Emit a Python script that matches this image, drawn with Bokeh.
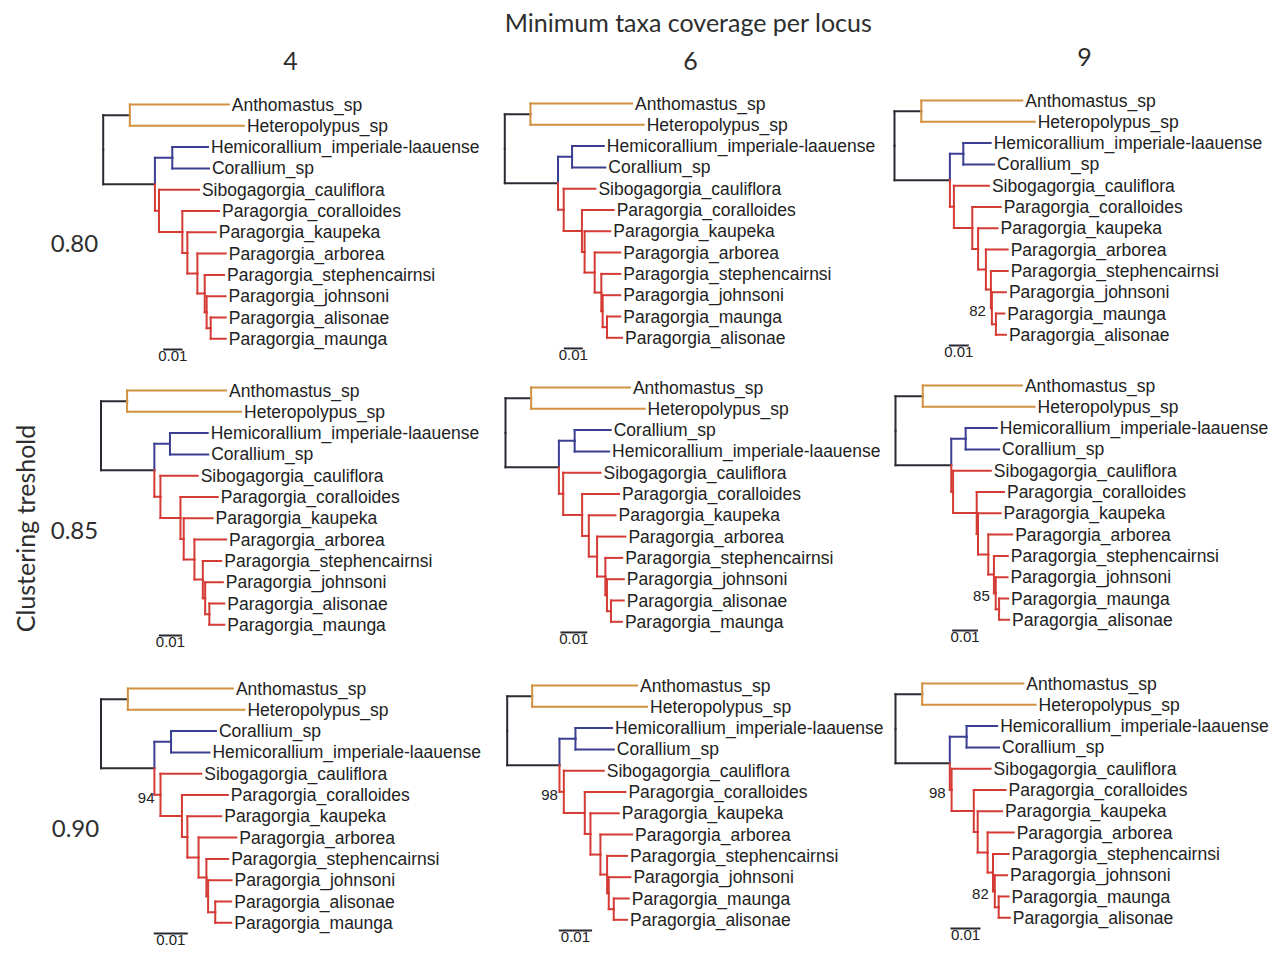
import math
from bokeh.plotting import figure
from bokeh.models import Range1d, ColumnDataSource
from bokeh.layouts import column, row
from bokeh.embed import file_html
from bokeh.resources import INLINE
from bokeh.core.properties import value

# ---------------- data ----------------
FIGURE_TITLE = "Minimum taxa coverage per locus"
COVERAGE = ["4", "6", "9"]
THRESHOLDS = ["0.80", "0.85", "0.90"]
ROW_AXIS_TITLE = "Clustering treshold"
SCALE_LABEL = "0.01"
SCALE_LEN = 0.01

OUTGROUP = ["Anthomastus_sp", "Heteropolypus_sp"]
HEMI = "Hemicorallium_imperiale-laauense"
CORA = "Corallium_sp"
SIBO = "Sibogagorgia_cauliflora"
PARAGORGIA = ["Paragorgia_coralloides", "Paragorgia_kaupeka", "Paragorgia_arborea",
              "Paragorgia_stephencairnsi", "Paragorgia_johnsoni"]
ALI = "Paragorgia_alisonae"
MAU = "Paragorgia_maunga"

# branch lengths (subst./site), edge order:
# root-O, O-Anth, O-Hetero, root-C, C-B, B-tip1, B-tip2, C-R, R-Sibo, R-P1,
# P1-coralloides, P1-P2, P2-kaupeka, P2-P3, P3-arborea, P3-P4, P4-stephencairnsi,
# P4-P5, P5-johnsoni, P5-P6, P6-tip1, P6-tip2
BL_080_4 = [0.0138, 0.0513, 0.0591, 0.0268, 0.0090, 0.0185, 0.0190, 0.0021, 0.0207, 0.0121, 0.0190,
            0.0026, 0.0147, 0.0052, 0.0147, 0.0038, 0.0100, 0.0010, 0.0098, 0.0021, 0.0078, 0.0078]
BL_080_6 = [0.0135, 0.0535, 0.0596, 0.0280, 0.0074, 0.0167, 0.0175, 0.0030, 0.0167, 0.0096, 0.0167,
            0.0014, 0.0135, 0.0053, 0.0135, 0.0035, 0.0100, 0.0007, 0.0093, 0.0023, 0.0070, 0.0079]
BL_080_9 = [0.0134, 0.0505, 0.0567, 0.0277, 0.0067, 0.0137, 0.0154, 0.0020, 0.0175, 0.0092, 0.0142,
            0.0029, 0.0097, 0.0039, 0.0109, 0.0025, 0.0084, 0.0005, 0.0070, 0.0020, 0.0042, 0.0050]
BL_085_4 = [0.0112, 0.0425, 0.0489, 0.0229, 0.0067, 0.0162, 0.0164, 0.0026, 0.0160, 0.0086, 0.0160,
            0.0014, 0.0124, 0.0046, 0.0136, 0.0036, 0.0079, 0.0010, 0.0076, 0.0018, 0.0064, 0.0064]
BL_085_6 = [0.0096, 0.0370, 0.0425, 0.0200, 0.0059, 0.0135, 0.0129, 0.0016, 0.0140, 0.0071, 0.0138,
            0.0025, 0.0100, 0.0031, 0.0106, 0.0031, 0.0063, 0.0006, 0.0063, 0.0015, 0.0048, 0.0041]
BL_085_9 = [0.0106, 0.0386, 0.0435, 0.0217, 0.0056, 0.0121, 0.0130, 0.0007, 0.0147, 0.0092, 0.0106,
            0.0005, 0.0088, 0.0040, 0.0093, 0.0022, 0.0054, 0.0007, 0.0046, 0.0013, 0.0035, 0.0039]
BL_090_4 = [0.0079, 0.0309, 0.0343, 0.0157, 0.0049, 0.0132, 0.0113, 0.0018, 0.0120, 0.0063, 0.0135,
            0.0016, 0.0100, 0.0033, 0.0111, 0.0023, 0.0064, 0.0005, 0.0069, 0.0021, 0.0047, 0.0047]
BL_090_6 = [0.0075, 0.0315, 0.0345, 0.0157, 0.0048, 0.0110, 0.0115, 0.0013, 0.0120, 0.0063, 0.0122,
            0.0017, 0.0085, 0.0030, 0.0095, 0.0020, 0.0060, 0.0005, 0.0065, 0.0015, 0.0045, 0.0040]
BL_090_9 = [0.0089, 0.0337, 0.0378, 0.0181, 0.0056, 0.0102, 0.0108, 0.0006, 0.0130, 0.0074, 0.0106,
            0.0013, 0.0081, 0.0033, 0.0087, 0.0018, 0.0052, 0.0006, 0.0041, 0.0013, 0.0033, 0.0037]

BRANCH_LENGTHS = [[BL_080_4, BL_080_6, BL_080_9],
                  [BL_085_4, BL_085_6, BL_085_9],
                  [BL_090_4, BL_090_6, BL_090_9]]
BLUE_ORDER = [[[HEMI, CORA], [HEMI, CORA], [HEMI, CORA]],
              [[HEMI, CORA], [CORA, HEMI], [HEMI, CORA]],
              [[CORA, HEMI], [HEMI, CORA], [HEMI, CORA]]]
LAST_ORDER = [[[ALI, MAU], [MAU, ALI], [MAU, ALI]],
              [[ALI, MAU], [ALI, MAU], [MAU, ALI]],
              [[ALI, MAU], [MAU, ALI], [MAU, ALI]]]
SUPPORT = [[{}, {}, {"P5": "82"}],
           [{}, {}, {"P5": "85"}],
           [{"R": "94"}, {"R": "98"}, {"R": "98", "P5": "82"}]]

# ---------------- layout / style (page pixels) ----------------
LABEL_W = 99
COL_X0 = [99, 490, 887]
COL_W = [391, 397, 386]
HEADER_H = 84
ROW_Y0 = [84, 372, 659]
ROW_H = [288, 287, 292]
PANEL_ROOT_PX = [[102.7, 504.3, 894], [100.5, 505, 895], [100.5, 506.7, 895]]
PANEL_TOP_PX = [[104, 103, 100], [390, 387, 385], [688, 685, 683]]
PANEL_PX_PER_001 = [[19.3, 19, 20], [23.3, 26.7, 25.7], [34, 33.3, 30]]
SCALEBAR_X_PX = [[162.7, 563.3, 948.3], [158.3, 560, 951.7], [153.3, 558.3, 950]]
LEAF_SP = 21.3

C_BLACK = "#2b2b33"
C_ORANGE = "#d2913f"
C_BLUE = "#3b3f92"
C_RED = "#d53b35"
C_TEXT = "#222222"
LABEL_FONT = "Liberation Sans"
HEAD_FONT = "Lato"
HEAD_SIZE = "25px"


def base_fig(w, h, xr, yr):
    p = figure(width=w, height=h, x_range=xr, y_range=yr, output_backend="svg",
               toolbar_location=None, x_axis_type=None, y_axis_type=None,
               min_border=0, outline_line_color=None)
    p.grid.visible = False
    p.background_fill_color = "white"
    p.border_fill_color = "white"
    return p


def build_tree(bl, blue, last):
    leaves = OUTGROUP + blue + [SIBO] + PARAGORGIA + last
    edges = [("root", "O"), ("O", leaves[0]), ("O", leaves[1]), ("root", "C"), ("C", "B"),
             ("B", leaves[2]), ("B", leaves[3]), ("C", "R"), ("R", leaves[4]), ("R", "P1"),
             ("P1", leaves[5]), ("P1", "P2"), ("P2", leaves[6]), ("P2", "P3"), ("P3", leaves[7]),
             ("P3", "P4"), ("P4", leaves[8]), ("P4", "P5"), ("P5", leaves[9]), ("P5", "P6"),
             ("P6", leaves[10]), ("P6", leaves[11])]
    xs = {"root": 0.0}
    children = {}
    for (pa, ch), L in zip(edges, bl):
        xs[ch] = xs[pa] + L
        children.setdefault(pa, []).append(ch)
    ys = {n: i for i, n in enumerate(leaves)}

    def gy(n):
        if n not in ys:
            ys[n] = sum(gy(c) for c in children[n]) / len(children[n])
        return ys[n]
    gy("root")

    def colour(pa, ch):
        if pa == "root":
            return C_BLACK
        if pa == "O":
            return C_ORANGE
        if pa == "B" or ch == "B":
            return C_BLUE
        return C_RED
    seg = dict(x0=[], y0=[], x1=[], y1=[], c=[])
    for pa, ch in edges:
        c = colour(pa, ch)
        seg["x0"].append(xs[pa]); seg["y0"].append(ys[pa])
        seg["x1"].append(xs[pa]); seg["y1"].append(ys[ch]); seg["c"].append(c)
        seg["x0"].append(xs[pa]); seg["y0"].append(ys[ch])
        seg["x1"].append(xs[ch]); seg["y1"].append(ys[ch]); seg["c"].append(c)
    leaf_src = dict(x=[xs[n] for n in leaves], y=[ys[n] for n in leaves], t=leaves)
    return seg, leaf_src, xs, ys


def panel(r, c):
    W, H = COL_W[c], ROW_H[r]
    ppu = PANEL_PX_PER_001[r][c] / SCALE_LEN
    xs0 = -(PANEL_ROOT_PX[r][c] - COL_X0[c]) / ppu
    xr = Range1d(xs0, xs0 + W / ppu)
    ye = -(PANEL_TOP_PX[r][c] - ROW_Y0[r]) / LEAF_SP
    yr = Range1d(ye + H / LEAF_SP, ye)
    p = base_fig(W, H, xr, yr)
    seg, leaf_src, xs, ys = build_tree(BRANCH_LENGTHS[r][c], BLUE_ORDER[r][c], LAST_ORDER[r][c])
    p.segment(x0="x0", y0="y0", x1="x1", y1="y1", line_color="c", line_width=2,
              line_cap="square", source=ColumnDataSource(seg))
    p.text(x="x", y="y", text="t", source=ColumnDataSource(leaf_src),
           text_font=value(LABEL_FONT), text_font_size="17.5px", text_color=C_TEXT,
           text_baseline="middle", text_align="left", x_offset=3)
    sup = SUPPORT[r][c]
    if sup:
        nodes = list(sup.keys())
        p.text(x=[xs[n] for n in nodes], y=[ys[n] for n in nodes], text=[sup[n] for n in nodes],
               text_font=value(LABEL_FONT), text_font_size="15px", text_color=C_TEXT,
               text_baseline="middle", text_align="right", x_offset=-6, y_offset=3)
    sb_x = (SCALEBAR_X_PX[r][c] - PANEL_ROOT_PX[r][c]) / ppu
    sb_y = 11.5
    p.segment(x0=[sb_x], y0=[sb_y], x1=[sb_x + SCALE_LEN], y1=[sb_y], line_color=C_BLACK, line_width=2)
    p.text(x=[sb_x + SCALE_LEN / 2], y=[sb_y], text=[SCALE_LABEL], text_font=value(LABEL_FONT),
           text_font_size="15px", text_color=C_TEXT, text_baseline="top", text_align="center",
           y_offset=2)
    return p


TOTAL_W = LABEL_W + sum(COL_W)
hdr = base_fig(TOTAL_W, HEADER_H, Range1d(0, TOTAL_W), Range1d(HEADER_H, 0))
hdr.text(x=[688], y=[21], text=[FIGURE_TITLE], text_font=value(HEAD_FONT), text_font_size=HEAD_SIZE,
         text_color="#2e2e2e", text_baseline="middle", text_align="center")
hdr.text(x=[290, 690, 1084], y=[60, 60, 56], text=COVERAGE, text_font=value(HEAD_FONT),
         text_font_size=HEAD_SIZE, text_color="#2e2e2e", text_baseline="middle", text_align="center")

rows = [hdr]
ROW_LABEL_Y = [243, 530, 828]
ROW_LABEL_X = [74, 74, 75]
for r in range(3):
    lab = base_fig(LABEL_W, ROW_H[r], Range1d(0, LABEL_W), Range1d(ROW_Y0[r] + ROW_H[r], ROW_Y0[r]))
    lab.text(x=[ROW_LABEL_X[r]], y=[ROW_LABEL_Y[r]], text=[THRESHOLDS[r]], text_font=value(HEAD_FONT),
             text_font_size="24px", text_color="#2e2e2e", text_baseline="middle", text_align="center")
    if r == 1:
        lab.text(x=[24], y=[528], text=[ROW_AXIS_TITLE], angle=math.pi / 2, text_font=value(HEAD_FONT),
                 text_font_size=HEAD_SIZE, text_color="#2e2e2e", text_baseline="middle", text_align="center")
    rows.append(row([lab] + [panel(r, c) for c in range(3)], spacing=0))

layout = column(rows, spacing=0)
open("out.html", "w").write(file_html(layout, INLINE))
